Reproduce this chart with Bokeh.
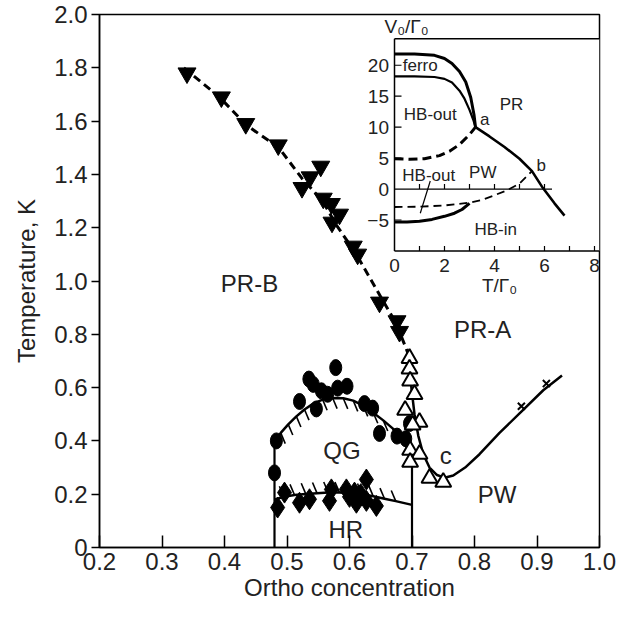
from bokeh.plotting import figure
from bokeh.models import Range1d, FixedTicker, NumeralTickFormatter
from bokeh.embed import file_html
from bokeh.resources import INLINE
from bokeh.core.properties import value

FONT = "Liberation Sans"

# ---------------- main chart data ----------------
x_ticks = [0.2, 0.3, 0.4, 0.5, 0.6, 0.7, 0.8, 0.9, 1.0]
y_ticks = [0, 0.2, 0.4, 0.6, 0.8, 1.0, 1.2, 1.4, 1.6, 1.8, 2.0]

# PR-B / PR-A boundary (filled down triangles + dashed line)
tri_down_x = [0.340, 0.395, 0.434, 0.486, 0.524, 0.537, 0.554, 0.558, 0.571, 0.572, 0.584, 0.606, 0.613, 0.648, 0.676, 0.680]
tri_down_y = [1.78, 1.69, 1.59, 1.51, 1.35, 1.39, 1.43, 1.31, 1.29, 1.22, 1.25, 1.13, 1.10, 0.92, 0.85, 0.81]
dash_x = [0.335, 0.392, 0.435, 0.487, 0.524, 0.557, 0.579, 0.611, 0.633, 0.655, 0.675, 0.695]
dash_y = [1.80, 1.69, 1.585, 1.50, 1.385, 1.30, 1.21, 1.10, 1.01, 0.92, 0.84, 0.72]

# PR-A / PW boundary (open up triangles + solid line through "c")
tri_up_x = [0.696, 0.696, 0.697, 0.704, 0.689, 0.712, 0.701, 0.697, 0.712, 0.697, 0.728, 0.750]
tri_up_y = [0.71, 0.67, 0.625, 0.575, 0.515, 0.47, 0.46, 0.365, 0.35, 0.32, 0.26, 0.245]
pw_x = [0.695, 0.699, 0.704, 0.710, 0.718, 0.728, 0.740, 0.752, 0.766, 0.785, 0.808, 0.840, 0.875, 0.910, 0.940]
pw_y = [0.72, 0.60, 0.50, 0.42, 0.35, 0.30, 0.272, 0.262, 0.27, 0.30, 0.35, 0.43, 0.51, 0.59, 0.645]
cross_x = [0.875, 0.915]
cross_y = [0.53, 0.615]

# QG (filled circles) and its boundary
circ_x = [0.483, 0.480, 0.520, 0.535, 0.542, 0.547, 0.555, 0.565, 0.578, 0.581, 0.596, 0.624, 0.637, 0.648, 0.676, 0.690, 0.696]
circ_y = [0.400, 0.280, 0.548, 0.632, 0.612, 0.520, 0.588, 0.575, 0.675, 0.598, 0.605, 0.540, 0.523, 0.428, 0.418, 0.408, 0.465]
qg_x = [0.480, 0.490, 0.502, 0.515, 0.528, 0.542, 0.557, 0.573, 0.590, 0.606, 0.622, 0.638, 0.654, 0.669, 0.684, 0.700]
qg_y = [0.400, 0.430, 0.462, 0.492, 0.518, 0.540, 0.555, 0.561, 0.560, 0.551, 0.532, 0.506, 0.477, 0.447, 0.414, 0.380]

# HR (filled diamonds) and its boundary
diam_x = [0.485, 0.496, 0.520, 0.536, 0.568, 0.571, 0.595, 0.608, 0.611, 0.627, 0.627, 0.643, 0.600, 0.618]
diam_y = [0.150, 0.206, 0.168, 0.181, 0.175, 0.218, 0.218, 0.206, 0.168, 0.255, 0.175, 0.156, 0.190, 0.200]
hr_x = [0.480, 0.495, 0.512, 0.530, 0.548, 0.566, 0.584, 0.602, 0.620, 0.638, 0.656, 0.674, 0.700]
hr_y = [0.180, 0.190, 0.197, 0.201, 0.204, 0.206, 0.206, 0.204, 0.200, 0.192, 0.183, 0.174, 0.160]

# vertical phase walls
wall_x = [0.48, 0.70]
wall_top = [0.40, 0.34]

main_labels = ["PR-B", "PR-A", "QG", "HR", "PW", "c"]
main_lab_x = [0.44, 0.813, 0.588, 0.594, 0.836, 0.754]
main_lab_y = [0.99, 0.819, 0.364, 0.067, 0.198, 0.346]

# ---------------- inset data ----------------
in_x_ticks = [0, 2, 4, 6, 8]
in_x_minor = [1, 2, 3, 4, 5, 6, 7, 8]
in_y_ticks = [-5, 0, 5, 10, 15, 20]
in_y_labels = ["\u22125", "0", "5", "10", "15", "20"]
zero_ticks = [1, 2, 3, 4, 5, 6]

ferro_T = [0, 0.8, 1.6, 2.0, 2.3, 2.6, 2.85, 3.05, 3.18, 3.24]
ferro_V = [21.8, 21.8, 21.6, 21.1, 20.3, 19.0, 17.3, 14.8, 12.0, 10.0]
hbo_T = [0, 0.8, 1.6, 2.0, 2.3, 2.6, 2.8, 3.0, 3.15, 3.24]
hbo_V = [18.2, 18.2, 18.1, 17.8, 17.2, 15.9, 14.6, 12.8, 11.2, 10.0]
hbd_T = [0, 0.6, 1.2, 1.8, 2.2, 2.6, 3.0, 3.24]
hbd_V = [4.9, 4.8, 4.9, 5.4, 6.1, 7.2, 8.8, 10.0]
pr_T = [3.24, 3.8, 4.4, 5.0, 5.5, 5.93, 6.4, 6.8]
pr_V = [10.0, 8.5, 6.8, 4.9, 2.9, 0.2, -2.3, -4.3]
hbl_T = [0, 1, 2, 3, 3.5, 4.0, 4.5, 5.0, 5.5]
hbl_V = [-2.9, -2.85, -2.65, -2.2, -1.75, -1.0, -0.2, 0.9, 2.9]
hbin_T = [0, 0.5, 1.0, 1.5, 2.0, 2.4, 2.7, 3.0]
hbin_V = [-5.3, -5.3, -5.2, -4.9, -4.4, -3.9, -3.3, -2.3]
leader_T = [1.43, 1.03]
leader_V = [1.3, -3.9]

in_labels = ["ferro", "HB-out", "PR", "a", "b", "HB-out", "PW", "HB-in"]
in_lab_T = [0.33, 1.43, 4.68, 3.61, 5.87, 1.37, 3.53, 4.05]
in_lab_V = [19.9, 12.0, 13.7, 11.3, 3.8, 2.26, 2.7, -6.6]
in_lab_align = ["left", "center", "center", "center", "center", "center", "center", "center"]

# inset frame extents (in inset units)
IN_T0, IN_T1 = 0.0, 8.2
IN_V0, IN_V1 = -10.0, 24.3

# ---------------- figure ----------------
p = figure(width=626, height=603, x_range=Range1d(0.2, 1.0), y_range=Range1d(0, 2.0),
           output_backend="svg", toolbar_location=None,
           min_border_left=99, min_border_right=27, min_border_top=14, min_border_bottom=56)
p.extra_x_ranges = {"ix": Range1d(-11.8, 8.2)}
p.extra_y_ranges = {"iy": Range1d(-57.9, 28.2)}

p.xgrid.visible = False
p.ygrid.visible = False
p.outline_line_color = "black"
p.outline_line_width = 1.5
p.outline_line_alpha = 1.0
p.background_fill_color = "white"
p.border_fill_color = "white"

for ax in (p.xaxis, p.yaxis):
    ax.axis_line_width = 1.5
    ax.axis_line_color = "black"
    ax.major_tick_line_color = "black"
    ax.major_tick_line_width = 1.5
    ax.minor_tick_line_color = None
    ax.major_label_text_font = FONT
    ax.major_label_text_font_size = "24px"
    ax.major_label_text_color = "#222222"
    ax.axis_label_text_font = FONT
    ax.axis_label_text_font_size = "24px"
    ax.axis_label_text_font_style = "normal"
    ax.axis_label_text_color = "#222222"
    ax.formatter = NumeralTickFormatter(format="0.0")

p.xaxis.ticker = FixedTicker(ticks=x_ticks)
p.xaxis.major_tick_in = 12
p.xaxis.major_tick_out = 0
p.xaxis.major_label_standoff = 5
p.xaxis.axis_label = "Ortho concentration"
p.xaxis.axis_label_standoff = 1

p.yaxis.ticker = FixedTicker(ticks=y_ticks)
p.yaxis.major_label_overrides = {0: "0"}
p.yaxis.major_tick_in = 0
p.yaxis.major_tick_out = 8
p.yaxis.major_label_standoff = 4
p.yaxis.axis_label = "Temperature, K"
p.yaxis.axis_label_standoff = 11

# ---- main lines ----
p.segment(x0=wall_x, y0=[0] * len(wall_x), x1=wall_x, y1=wall_top, line_color="black", line_width=2.2)
p.line(qg_x, qg_y, line_color="black", line_width=2.5)
p.line(hr_x, hr_y, line_color="black", line_width=2.5)

# hatch marks (short ticks hanging from the boundary curves)
HDX = 0.0072
HDY = 0.040
qg_h = [(x, y) for x, y in zip(qg_x[1:-1], qg_y[1:-1]) if x < 0.69]
p.segment(x0=[h[0] for h in qg_h], y0=[h[1] for h in qg_h],
          x1=[h[0] + HDX for h in qg_h], y1=[h[1] - HDY for h in qg_h],
          line_color="black", line_width=1.6)
hr_h = list(zip(hr_x[1:-1], hr_y[1:-1]))
p.segment(x0=[h[0] for h in hr_h], y0=[h[1] for h in hr_h],
          x1=[h[0] - HDX for h in hr_h], y1=[h[1] + HDY for h in hr_h],
          line_color="black", line_width=1.6)

p.line(pw_x, pw_y, line_color="black", line_width=2.5)
p.line(dash_x, dash_y, line_color="black", line_width=3, line_dash="8 5")

# ---- main markers ----
p.ellipse(x=circ_x, y=circ_y, width=12, height=16, width_units="screen", height_units="screen",
          fill_color="black", line_color="black")
p.scatter(diam_x, diam_y, marker="diamond", size=21, fill_color="black", line_color="black")
p.scatter(tri_down_x, tri_down_y, marker="inverted_triangle", size=18, fill_color="black", line_color="black")
p.scatter(tri_up_x, tri_up_y, marker="triangle", size=16, fill_color="white", line_color="black", line_width=2)
p.scatter(cross_x, cross_y, marker="x", size=10, line_color="black", line_width=2)

p.text(x=main_lab_x, y=main_lab_y, text=main_labels, text_font=value(FONT), text_font_size="24px",
       text_color="#222222", text_align="center", text_baseline="middle")

# ---------------- inset ----------------
R = dict(x_range_name="ix", y_range_name="iy")
p.quad(left=[IN_T0], right=[IN_T1], bottom=[IN_V0], top=[IN_V1], fill_color="white", line_color=None, **R)
# frame: left, top, bottom
p.segment(x0=[IN_T0, IN_T0, IN_T0], y0=[IN_V0, IN_V1, IN_V0],
          x1=[IN_T0, IN_T1, IN_T1], y1=[IN_V1, IN_V1, IN_V0],
          line_color="black", line_width=1.5, **R)
# zero line with ticks
p.segment(x0=[0], y0=[0], x1=[6.3], y1=[0], line_color="black", line_width=1.2, **R)
p.segment(x0=zero_ticks, y0=[0] * len(zero_ticks), x1=zero_ticks, y1=[0.8] * len(zero_ticks),
          line_color="black", line_width=1.2, **R)
# bottom axis ticks (inward)
p.segment(x0=in_x_minor, y0=[IN_V0] * len(in_x_minor), x1=in_x_minor, y1=[IN_V0 + 0.8] * len(in_x_minor),
          line_color="black", line_width=1.2, **R)
# left axis ticks (inward)
lt = [v for v in in_y_ticks if v != 0]
p.segment(x0=[0] * len(lt), y0=lt, x1=[0.28] * len(lt), y1=lt, line_color="black", line_width=1.2, **R)

# inset curves
p.line(ferro_T, ferro_V, line_color="black", line_width=3, **R)
p.line(hbo_T, hbo_V, line_color="black", line_width=2.2, **R)
p.line(hbd_T, hbd_V, line_color="black", line_width=3, line_dash="9 5", **R)
p.line(pr_T, pr_V, line_color="black", line_width=2.6, **R)
p.line(hbl_T, hbl_V, line_color="black", line_width=1.8, line_dash="8 5", **R)
p.line(hbin_T, hbin_V, line_color="black", line_width=3, **R)
p.line(leader_T, leader_V, line_color="black", line_width=1.2, **R)

# inset tick labels
p.text(x=[-0.22] * len(in_y_ticks), y=in_y_ticks, text=in_y_labels, text_font=value(FONT),
       text_font_size="19px", text_color="#222222", text_align="right", text_baseline="middle", **R)
p.text(x=in_x_ticks, y=[-12.3] * len(in_x_ticks), text=[str(t) for t in in_x_ticks], text_font=value(FONT),
       text_font_size="19px", text_color="#222222", text_align="center", text_baseline="middle", **R)
p.text(x=[4.2], y=[-15.6], text=["T/\u0393\u2080"], text_font=value(FONT),
       text_font_size="19px", text_color="#222222", text_align="center", text_baseline="middle", **R)
p.text(x=[-0.4], y=[26.3], text=["V\u2080/\u0393\u2080"], text_font=value(FONT),
       text_font_size="19px", text_color="#222222", text_align="left", text_baseline="middle", **R)

# inset region labels
for al in ("left", "center"):
    idx = [i for i, a in enumerate(in_lab_align) if a == al]
    p.text(x=[in_lab_T[i] for i in idx], y=[in_lab_V[i] for i in idx], text=[in_labels[i] for i in idx],
           text_font=value(FONT), text_font_size="17px", text_color="#222222",
           text_align=al, text_baseline="middle", **R)

open("out.html", "w").write(file_html(p, INLINE))
